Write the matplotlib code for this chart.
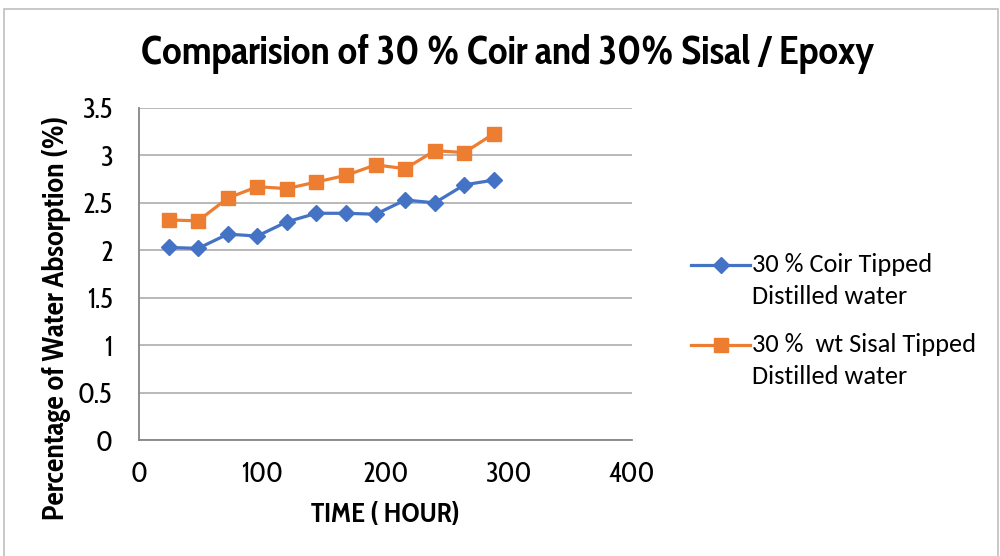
import matplotlib
matplotlib.use("Agg")
import matplotlib.pyplot as plt
from matplotlib.patches import Rectangle
from matplotlib.lines import Line2D

time_hours = [24, 48, 72, 96, 120, 144, 168, 192, 216, 240, 264, 288]
coir = [2.03, 2.02, 2.17, 2.15, 2.30, 2.39, 2.39, 2.38, 2.53, 2.50, 2.69, 2.74]
sisal = [2.32, 2.31, 2.55, 2.67, 2.65, 2.72, 2.79, 2.90, 2.86, 3.05, 3.03, 3.23]
coir_label = ["30 % Coir Tipped", "Distilled water"]
sisal_label = ["30 %  wt Sisal Tipped", "Distilled water"]
title = "Comparision of 30 % Coir and 30% Sisal / Epoxy"
xlabel = "TIME ( HOUR)"
ylabel = "Percentage of Water Absorption (%)"
xticks = [0, 100, 200, 300, 400]
yticks = [0, 0.5, 1, 1.5, 2, 2.5, 3, 3.5]
ytick_labels = ["0", "0.5", "1", "1.5", "2", "2.5", "3", "3.5"]

narrow = ['Cabin Condensed', 'Carlito', 'DejaVu Sans']
legend_font = ['Carlito', 'DejaVu Sans']
plt.rcParams['font.family'] = narrow

BLUE = "#4472C4"
ORANGE = "#ED7D31"

fig = plt.figure(figsize=(10, 5.56), dpi=100)
fig.patches.append(Rectangle((0.004, -0.01), 0.994, 0.994, transform=fig.transFigure,
                             fill=False, edgecolor="#bfbfbf", linewidth=1.2))
ax = fig.add_axes([0.139, 0.2086, 0.493, 0.5972])

ax.plot(time_hours, coir, color=BLUE, lw=2.3, marker="D", markersize=8.3, zorder=3)
ax.plot(time_hours, sisal, color=ORANGE, lw=2.3, marker="s", markersize=9.5, zorder=3)

ax.set_xlim(0, 400)
ax.set_ylim(0, 3.5)
ax.set_xticks(xticks)
ax.set_yticks(yticks)
ax.set_yticklabels(ytick_labels)
ax.tick_params(axis="both", length=0, labelsize=20)
ax.tick_params(axis="x", pad=15)
ax.tick_params(axis="y", pad=19)
ax.grid(axis="y", color="#a6a6a6", lw=1.1)
ax.set_axisbelow(True)
for s in ["top", "right"]:
    ax.spines[s].set_visible(False)
for s in ["left", "bottom"]:
    ax.spines[s].set_color("#868686")
    ax.spines[s].set_linewidth(1.3)

fig.text(0.508, 0.903, title, ha="center", va="center", fontsize=28.8, fontweight="bold")
fig.text(0.385, 0.073, xlabel, ha="center", va="center", fontsize=20, fontweight="bold")
fig.text(0.057, 0.428, ylabel, ha="center", va="center", rotation=90, fontsize=21.5, fontweight="bold")

# legend (Excel style: handle aligned with the first text line)
entries = [(BLUE, "D", 8.3, coir_label, 265), (ORANGE, "s", 9.5, sisal_label, 345)]
for color, mk, ms, lab, ypix in entries:
    yf = 1 - ypix / 556
    fig.add_artist(Line2D([0.691, 0.750], [yf, yf], transform=fig.transFigure,
                          color=color, lw=2.3))
    fig.add_artist(Line2D([0.7205], [yf], transform=fig.transFigure, color=color,
                          marker=mk, markersize=ms, linestyle="none"))
    fig.text(0.752, yf, lab[0], ha="left", va="center", fontsize=19, family=legend_font)
    fig.text(0.752, yf - 32 / 556, lab[1], ha="left", va="center", fontsize=19, family=legend_font)

fig.savefig("out.png", dpi=100)
